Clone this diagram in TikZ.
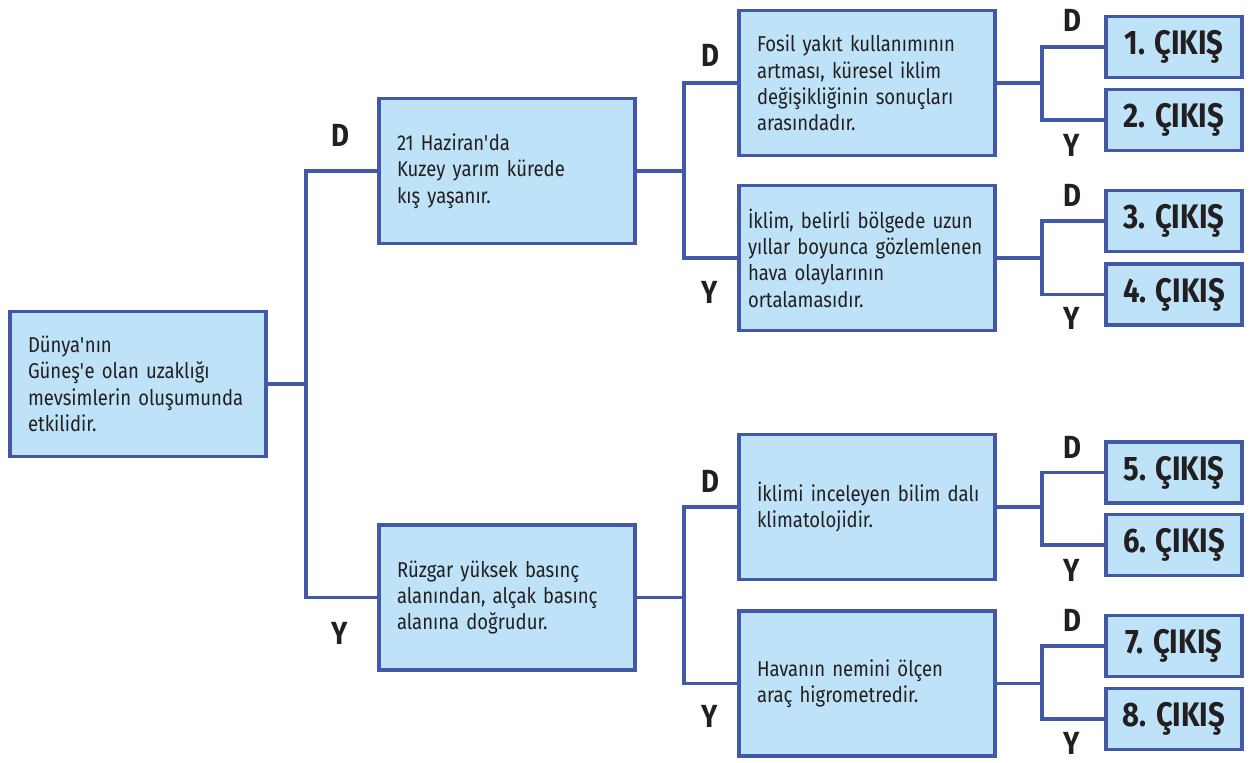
\documentclass[tikz,border=0pt]{standalone}
\usepackage{fontspec}
\setmainfont[FakeStretch=0.86]{Fira Sans}
\usetikzlibrary{positioning}
\definecolor{kutumavi}{RGB}{190,226,247}
\definecolor{cizgimavi}{RGB}{68,88,168}
\definecolor{yazi}{RGB}{35,31,32}
\tikzset{
  soru/.style={rectangle, draw=cizgimavi, line width=3.6pt, fill=kutumavi, minimum width=256pt, minimum height=145pt, text width=220pt, inner xsep=18pt, align=left, text=yazi, font={\hyphenpenalty=10000\fontsize{21.5}{26.3}\selectfont}},
  cikis/.style={rectangle, draw=cizgimavi, line width=3.6pt, fill=kutumavi, minimum width=136pt, minimum height=61pt, text=yazi, font=\bfseries\fontsize{34}{36}\selectfont},
  cevap/.style={text=yazi, font=\bfseries\fontsize{32}{34}\selectfont},
  dal/.style={draw=cizgimavi, line width=3.6pt}
}

\begin{document}
\begin{tikzpicture}[x=1pt,y=-1pt]
\useasboundingbox (0,0) rectangle (1251,763);

% Ilk soru
\node[soru] (kok) at (138,384) {Dünya\textquotesingle nın\\Güneş\textquotesingle e olan uzaklığı\\mevsimlerin oluşumunda\\etkilidir.};
\coordinate (kokdal) at (306,384);

% Ikinci basamak
\node[soru] (a) at (507,171) {21 Haziran\textquotesingle da\\Kuzey yarım kürede\\kış yaşanır.};
\node[soru] (b) at (507,597.5) {Rüzgar yüksek basınç\\alanından, alçak basınç\\alanına doğrudur.};
\draw[dal] (kok.east) -- (kokdal);
\draw[dal] (a.west) -| (kokdal) |- (b.west);
\node[cevap] (d0) at (340,135) {D};
\node[cevap] (y0) at (340,633) {Y};

% Ucuncu basamak
\node[soru] (a1) at (867,83) {Fosil yakıt kullanımının\\artması, küresel iklim\\değişikliğinin sonuçları\\arasındadır.};
\node[soru, text width=238pt, inner xsep=9pt] (a2) at (867,258) {İklim, belirli bölgede uzun\\yıllar boyunca gözlemlenen\\hava olaylarının\\ortalamasıdır.};
\node[soru] (b1) at (867,507) {\mbox{İklimi inceleyen bilim dalı}\\klimatolojidir.};
\node[soru] (b2) at (867,683.5) {Havanın nemini ölçen\\araç higrometredir.};
\coordinate (adal) at (684,171);
\coordinate (bdal) at (684,597.5);
\draw[dal] (a.east) -- (adal);
\draw[dal] (a1.west) -| (adal) |- (a2.west);
\draw[dal] (b.east) -- (bdal);
\draw[dal] (b1.west) -| (bdal) |- (b2.west);
\node[cevap] (d1) at (710,55) {D};
\node[cevap] (y1) at (710,292) {Y};
\node[cevap] (d2) at (710,481) {D};
\node[cevap] (y2) at (710,716) {Y};

% Cikislar
\node[cikis] (c1) at (1174,47) {1. ÇIKIŞ};
\node[cikis] (c2) at (1174,120) {2. ÇIKIŞ};
\node[cikis] (c3) at (1174,221) {3. ÇIKIŞ};
\node[cikis] (c4) at (1174,294.5) {4. ÇIKIŞ};
\node[cikis] (c5) at (1174,472.5) {5. ÇIKIŞ};
\node[cikis] (c6) at (1174,545) {6. ÇIKIŞ};
\node[cikis] (c7) at (1174,646) {7. ÇIKIŞ};
\node[cikis] (c8) at (1174,719) {8. ÇIKIŞ};
\coordinate (a1dal) at (1042,83);
\coordinate (a2dal) at (1042,258);
\coordinate (b1dal) at (1042,507);
\coordinate (b2dal) at (1042,683.5);
\draw[dal] (a1.east) -- (a1dal);
\draw[dal] (c1.west) -| (a1dal) |- (c2.west);
\draw[dal] (a2.east) -- (a2dal);
\draw[dal] (c3.west) -| (a2dal) |- (c4.west);
\draw[dal] (b1.east) -- (b1dal);
\draw[dal] (c5.west) -| (b1dal) |- (c6.west);
\draw[dal] (b2.east) -- (b2dal);
\draw[dal] (c7.west) -| (b2dal) |- (c8.west);
\node[cevap] (d3) at (1072,20) {D};
\node[cevap] (y3) at (1072,145) {Y};
\node[cevap] (d4) at (1072,195) {D};
\node[cevap] (y4) at (1072,318) {Y};
\node[cevap] (d5) at (1072,447) {D};
\node[cevap] (y5) at (1072,570) {Y};
\node[cevap] (d6) at (1072,620) {D};
\node[cevap] (y6) at (1072,743) {Y};
\end{tikzpicture}
\end{document}
